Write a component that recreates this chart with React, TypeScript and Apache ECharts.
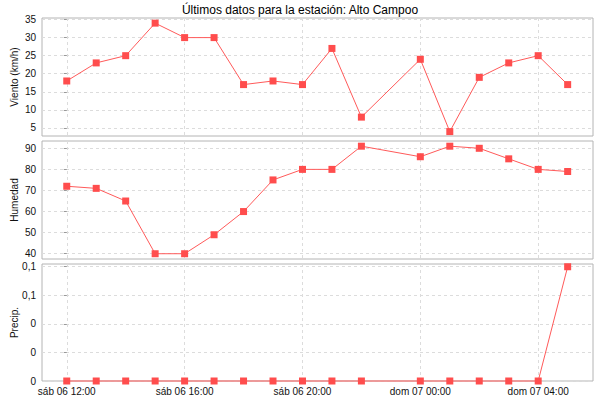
import React, { useEffect, useRef } from 'react';
import * as echarts from 'echarts';

// hours after sáb 06 12:00 (23:00 has no reading)
const hours = [0, 1, 2, 3, 4, 5, 6, 7, 8, 9, 10, 12, 13, 14, 15, 16, 17];
const viento = [18, 23, 25, 34, 30, 30, 17, 18, 17, 27, 8, 24, 4, 19, 23, 25, 17];
const humedad = [72, 71, 65, 40, 40, 49, 60, 75, 80, 80, 91, 86, 91, 90, 85, 80, 79];
const precip = [0, 0, 0, 0, 0, 0, 0, 0, 0, 0, 0, 0, 0, 0, 0, 0, 0.1];

const xTickHours = [0, 4, 8, 12, 16];
const xTickLabels = ['sáb 06 12:00', 'sáb 06 16:00', 'sáb 06 20:00', 'dom 07 00:00', 'dom 07 04:00'];
const vientoTicks = [5, 10, 15, 20, 25, 30, 35];
const humedadTicks = [40, 50, 60, 70, 80, 90];
const precipTicks = [0, 0.025, 0.05, 0.075, 0.1];
const precipTickLabels = ['0', '0', '0', '0,1', '0,1'];

const FONT = 'Liberation Sans, Arial, sans-serif';
const RED = '#ff4d4d';

const App = () => {
    const chartRef = useRef<HTMLDivElement>(null);

    useEffect(() => {
        if (!chartRef.current) return;
        const myChart = echarts.init(chartRef.current, null, { renderer: 'svg' });

        const grids = [
            { left: 42, right: 7, top: 18, height: 118 },
            { left: 42, right: 7, top: 141, height: 118 },
            { left: 42, right: 7, top: 264, height: 117 },
        ].map((g) => ({
            ...g,
            show: true,
            outerBoundsMode: 'none',
            containLabel: false,
            borderColor: '#b4b4b4',
            borderWidth: 1,
            backgroundColor: '#fff',
        }));

        const splitLine = { show: true, lineStyle: { color: '#dcdcdc', type: [3, 3] as any, width: 1 } };

        const xAxis = [0, 1, 2].map((i) => ({
            type: 'value' as const,
            gridIndex: i,
            min: -0.84,
            max: 17.86,
            axisLine: { show: false },
            axisTick: { show: false, customValues: xTickHours },
            axisLabel: {
                show: i === 2,
                customValues: xTickHours,
                fontSize: 10,
                fontFamily: FONT,
                color: '#111',
                margin: 5,
                formatter: (v: number) => xTickLabels[xTickHours.indexOf(v)] ?? '',
            },
            splitLine,
        }));

        const yBase = (i: number, name: string, min: number, max: number, ticks: number[], fmt: (v: number) => string) => ({
            type: 'value' as const,
            gridIndex: i,
            min,
            max,
            name,
            nameLocation: 'middle' as const,
            nameRotate: 90,
            nameGap: 23,
            nameMoveOverlap: false,
            nameTextStyle: { fontSize: 10, fontFamily: FONT, color: '#111' },
            axisLine: { show: false },
            axisTick: { show: true, length: 3, customValues: ticks, lineStyle: { color: '#999' } },
            axisLabel: { customValues: ticks, fontSize: 10, fontFamily: FONT, color: '#111', margin: 6, formatter: fmt },
            splitLine,
        });

        const yAxis = [
            yBase(0, 'Viento (km/h)', 2.78, 35.42, vientoTicks, (v) => String(v)),
            yBase(1, 'Humedad', 37.5, 93.46, humedadTicks, (v) => String(v)),
            yBase(2, 'Precip.', 0, 0.1024, precipTicks, (v) => {
                const k = precipTicks.findIndex((t) => Math.abs(t - v) < 1e-9);
                return k >= 0 ? precipTickLabels[k] : '';
            }),
        ];

        const lineSeries = (i: number, name: string, values: number[]) => ({
            type: 'line' as const,
            name,
            xAxisIndex: i,
            yAxisIndex: i,
            data: hours.map((h, k) => [h, values[k]]),
            symbol: 'rect',
            symbolSize: 7,
            clip: false,
            itemStyle: { color: RED },
            lineStyle: { color: '#ff5a5a', width: 1 },
        });

        myChart.setOption({
            animation: false,
            title: {
                text: 'Últimos datos para la estación: Alto Campoo',
                left: 'center',
                top: -1,
                textStyle: { fontSize: 12, fontWeight: 'normal', fontFamily: FONT, color: '#000' },
            },
            grid: grids,
            xAxis,
            yAxis,
            series: [
                lineSeries(0, 'Viento', viento),
                lineSeries(1, 'Humedad', humedad),
                lineSeries(2, 'Precip.', precip),
            ],
        });

        return () => {
            myChart.dispose();
        };
    }, []);

    return <div ref={chartRef} style={{ position: 'absolute', left: 0, top: 0, width: 600, height: 400, background: '#fff' }}></div>;
};

export default App;
